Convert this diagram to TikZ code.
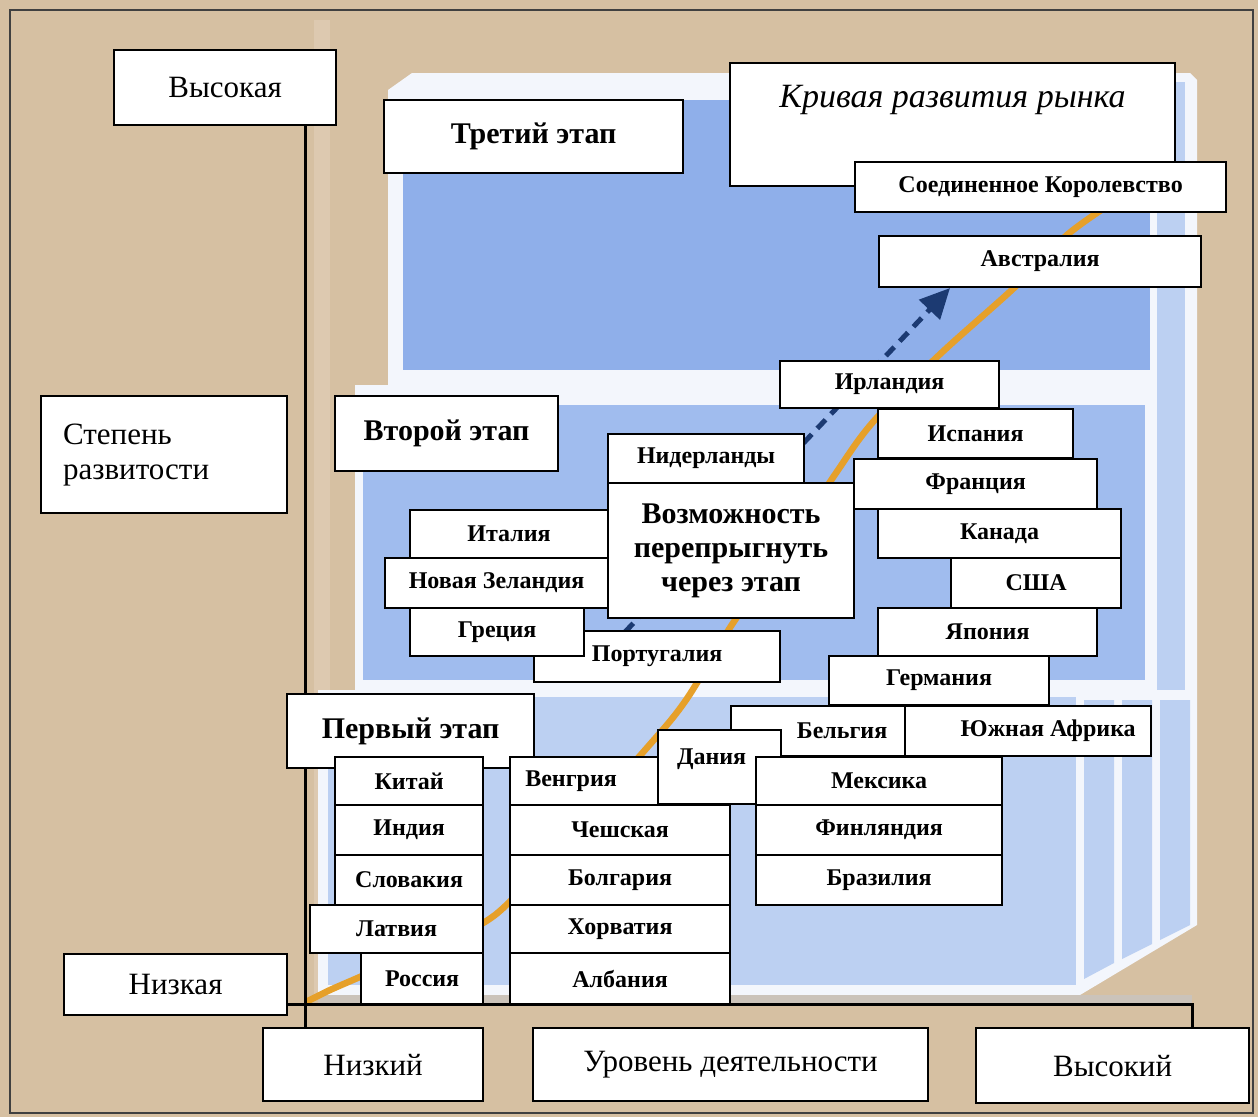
\documentclass[tikz,border=0pt]{standalone}
\usepackage{fontspec}
\setmainfont{Liberation Serif}
\usetikzlibrary{arrows.meta}
\definecolor{beige}{HTML}{D6C0A2}
\definecolor{beigelt}{HTML}{DDC9B0}
\definecolor{panel}{HTML}{F3F6FC}
\definecolor{blueA}{HTML}{8FAFEA}
\definecolor{blueB}{HTML}{A0BCEE}
\definecolor{blueC}{HTML}{BCD0F2}
\definecolor{shadowc}{HTML}{CBC3BA}
\definecolor{orangeC}{HTML}{E6A02A}
\definecolor{navy}{HTML}{1C3A72}
\pgfdeclarelayer{bg}
\pgfdeclarelayer{ax}
\pgfsetlayers{bg,ax,main}
\tikzset{
  bx/.style={draw=black, fill=white, line width=2.2pt, anchor=north west, inner sep=0pt,
    text=black, font=\fontsize{24}{28}\selectfont\bfseries},
  big/.style={bx, font=\fontsize{31}{35}\selectfont},
  stage/.style={bx, font=\fontsize{30}{34}\selectfont\bfseries},
  axis/.style={line width=3pt, draw=black},
}
\newcommand\mkbox[8][]{\node[#2,minimum width={#5-#3},minimum height={#6-#4},#1] (#7) at (#3,#4) {#8};}
\begin{document}
\begin{tikzpicture}[x=1pt,y=-1pt]
\useasboundingbox (0,0) rectangle (1258,1117);
\begin{pgfonlayer}{bg}
  \fill[beige] (0,0) rectangle (1258,1117);
  \fill[beigelt] (314,20) rectangle (330,1000);
  % panel
  \fill[panel] (388,90) -- (412,73) -- (1190,73) -- (1197,80) -- (1197,925) -- (1080,995)
     -- (318,995) -- (318,690) -- (355,690) -- (355,385) -- (388,385) -- cycle;
  \fill[shadowc] (318,995) rectangle (1192,1003);
  \fill[blueA] (403,100) rectangle (1150,370);
  \fill[blueB] (363,405) rectangle (1145,680);
  \fill[blueC] (328,697) rectangle (1076,985);
  \fill[blueC] (1157,82) rectangle (1185,690);
  \fill[blueC] (1084,700) -- (1114,700) -- (1114,963) -- (1084,979) -- cycle;
  \fill[blueC] (1122,700) -- (1152,700) -- (1152,944) -- (1122,959) -- cycle;
  \fill[blueC] (1160,700) -- (1190,700) -- (1190,925) -- (1160,940) -- cycle;
  % market curve
  \draw[orangeC, line width=6.5pt, line cap=round] plot[smooth, tension=0.55] coordinates
    {(308,1001) (330,990) (362,976) (420,950) (495,915) (570,833) (645,750) (686,700)
     (733,623) (790,543) (836,473) (873,422) (937,357) (1015,287) (1067,235) (1112,203)};
  % jump arrow
  \coordinate (arrS) at (625,632);
  \coordinate (arrE) at (950,288);
  \draw[navy, line width=5pt, dash pattern=on 12pt off 8pt,
        -{Triangle[length=30pt,width=28pt]}] (arrS) -- (arrE);
\end{pgfonlayer}

% axis labels
\mkbox{big}{113}{49}{335}{124}{vys}{Высокая}
\mkbox[align=left,text width=202pt]{big}{40}{395}{286}{512}{deg}{Степень\\развитости}
\mkbox{big}{63}{953}{286}{1014}{nizkaya}{Низкая}
\mkbox{big}{262}{1027}{482}{1100}{nizkiy}{Низкий}
\mkbox{big}{532}{1027}{927}{1100}{level}{Уровень деятельности}
\mkbox{big}{975}{1027}{1248}{1102}{vysokiy}{Высокий}

% title
\mkbox[font=\fontsize{34}{38}\selectfont\itshape, text height=24pt, text depth=59pt]{bx}{729}{62}{1174}{185}{title}{Кривая развития рынка}

% third stage countries
\mkbox{bx}{854}{161}{1225}{211}{uk}{Соединенное Королевство}
\mkbox{bx}{878}{235}{1200}{286}{aus}{Австралия}

% second stage countries (right)
\mkbox{bx}{779}{360}{998}{407}{irl}{Ирландия}
\mkbox{bx}{877}{408}{1072}{457}{esp}{Испания}
\mkbox{bx}{853}{458}{1096}{508}{fra}{Франция}
\mkbox{bx}{877}{508}{1120}{557}{can}{Канада}
\mkbox{bx}{950}{557}{1120}{607}{usa}{США}
\mkbox{bx}{877}{607}{1096}{655}{jpn}{Япония}
\mkbox{bx}{828}{655}{1048}{704}{ger}{Германия}

% centre
\mkbox{bx}{607}{433}{803}{482}{nid}{Нидерланды}
\mkbox[align=center, font=\fontsize{30}{34}\selectfont\bfseries]{bx}{607}{482}{853}{617}{jump}{Возможность\\перепрыгнуть\\через этап}
\mkbox{bx}{409}{509}{607}{557}{ita}{Италия}
\mkbox{bx}{384}{557}{607}{607}{nz}{Новая Зеландия}
\mkbox{bx}{533}{630}{779}{681}{por}{Португалия}
\mkbox{bx}{409}{607}{583}{655}{gre}{Греция}

% stages
\mkbox{stage}{383}{99}{682}{172}{st3}{Третий этап}
\mkbox{stage}{334}{395}{557}{470}{st2}{Второй этап}
\mkbox{stage}{286}{693}{533}{767}{st1}{Первый этап}

% first stage columns
\mkbox{bx}{334}{756}{482}{804}{chn}{Китай}
\mkbox{bx}{334}{804}{482}{854}{ind}{Индия}
\mkbox{bx}{334}{854}{482}{904}{svk}{Словакия}
\mkbox{bx}{309}{904}{482}{952}{lva}{Латвия}
\mkbox{bx}{360}{952}{482}{1003}{rus}{Россия}

\mkbox{bx}{509}{756}{729}{804}{hun}{Венгрия\hspace*{98pt}}
\mkbox{bx}{509}{804}{729}{854}{cze}{Чешская}
\mkbox{bx}{509}{854}{729}{904}{bgr}{Болгария}
\mkbox{bx}{509}{904}{729}{952}{hrv}{Хорватия}
\mkbox{bx}{509}{952}{729}{1003}{alb}{Албания}

\mkbox{bx}{730}{705}{904}{755}{bel}{\hspace*{48pt}Бельгия}
\mkbox{bx}{904}{705}{1150}{755}{zaf}{\hspace*{40pt}Южная Африка}
\mkbox[text height=17pt, text depth=23pt]{bx}{657}{729}{780}{803}{dnk}{Дания\hspace*{16pt}}
\mkbox{bx}{755}{756}{1001}{804}{mex}{Мексика}
\mkbox{bx}{755}{804}{1001}{854}{fin}{Финляндия}
\mkbox{bx}{755}{854}{1001}{904}{bra}{Бразилия}

% axes
\coordinate (ax) at (305,0);
\coordinate (ay) at (0,1004);
\coordinate (axr) at (1192,0);
\begin{pgfonlayer}{ax}
  \draw[axis] (vys.south -| ax) -- (nizkiy.north -| ax);
  \draw[axis] (nizkaya.east |- ay) -| (vysokiy.north -| axr);
\end{pgfonlayer}

% frame
\draw[line width=1.8pt, black!75] (10,10) rectangle (1253,1113);
\end{tikzpicture}
\end{document}
